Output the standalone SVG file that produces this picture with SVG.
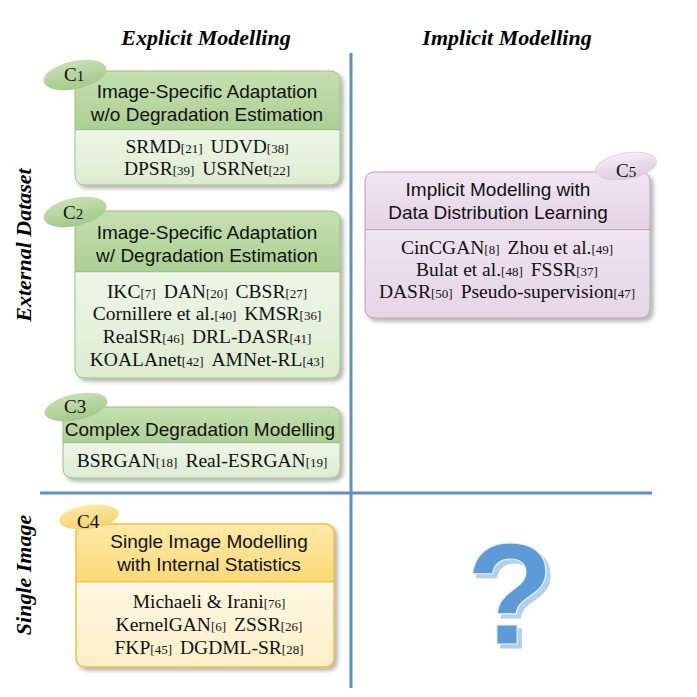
<svg xmlns="http://www.w3.org/2000/svg" width="697" height="697" viewBox="0 0 697 697">
<defs>
<linearGradient id="gH" x1="0" y1="0" x2="0" y2="1"><stop offset="0" stop-color="#c6e0b1"/><stop offset="1" stop-color="#abcf92"/></linearGradient>
<linearGradient id="gB" x1="0" y1="0" x2="0" y2="1"><stop offset="0" stop-color="#eef6e8"/><stop offset="1" stop-color="#dcecd0"/></linearGradient>
<linearGradient id="yH" x1="0" y1="0" x2="0" y2="1"><stop offset="0" stop-color="#fde9a8"/><stop offset="1" stop-color="#fbd977"/></linearGradient>
<linearGradient id="yB" x1="0" y1="0" x2="0" y2="1"><stop offset="0" stop-color="#fef7e2"/><stop offset="1" stop-color="#fdefc8"/></linearGradient>
<linearGradient id="pH" x1="0" y1="0" x2="0" y2="1"><stop offset="0" stop-color="#f1e6f1"/><stop offset="1" stop-color="#e4d2e4"/></linearGradient>
<linearGradient id="pB" x1="0" y1="0" x2="0" y2="1"><stop offset="0" stop-color="#efe3ef"/><stop offset="1" stop-color="#e6d5e6"/></linearGradient>
<linearGradient id="gT" x1="0" y1="0" x2="0" y2="1"><stop offset="0" stop-color="#c7e0b5"/><stop offset="1" stop-color="#a3c98a"/></linearGradient>
<linearGradient id="yT" x1="0" y1="0" x2="0" y2="1"><stop offset="0" stop-color="#fdeaa5"/><stop offset="1" stop-color="#f6d16a"/></linearGradient>
<linearGradient id="pT" x1="0" y1="0" x2="0" y2="1"><stop offset="0" stop-color="#f6eef6"/><stop offset="1" stop-color="#ddc9dd"/></linearGradient>
<filter id="sh" x="-10%" y="-10%" width="125%" height="130%"><feDropShadow dx="3" dy="3" stdDeviation="2" flood-color="#000" flood-opacity="0.3"/></filter>
<filter id="qs" x="-20%" y="-20%" width="150%" height="150%">
<feFlood flood-color="#b3cfee" result="f"/>
<feComposite in="f" in2="SourceAlpha" operator="in" result="s"/>
<feOffset in="s" dx="4" dy="4" result="o"/>
<feMerge><feMergeNode in="o"/><feMergeNode in="SourceGraphic"/></feMerge>
</filter>
</defs>
<style>
.ax{font-family:"Liberation Serif",serif;font-weight:bold;font-style:italic;font-size:22px;fill:#000;text-anchor:middle}
.hd{font-family:"Liberation Sans",Arial,sans-serif;font-size:19px;fill:#111;text-anchor:middle}
.bd{font-family:"Liberation Serif",serif;font-size:19.5px;fill:#111;text-anchor:middle}
.r{font-size:13px}
.cl{font-family:"Liberation Serif",serif;font-size:19px;fill:#111}
.cs{font-size:15px}
.ln{stroke:#5b8fc9;stroke-width:3;fill:none}
.gb{stroke:#9cbf85;stroke-width:1}
.yb{stroke:#f0c23c;stroke-width:1.5}
.pb{stroke:#b9a2b9;stroke-width:1}
.dv{stroke:#ffffff;stroke-width:1.2;opacity:0.8}
</style>

<g id="axes">
<line class="ln" x1="351" y1="53" x2="351" y2="688"/>
<line class="ln" x1="40" y1="493" x2="652" y2="493"/>
<text class="ax" x="206" y="45">Explicit Modelling</text>
<text class="ax" x="507" y="45">Implicit Modelling</text>
<text class="ax" transform="translate(31,245) rotate(-90)">External Dataset</text>
<text class="ax" transform="translate(31,575) rotate(-90)">Single Image</text>
</g>

<g id="c1">
<g filter="url(#sh)">
<path class="gb" d="M85,71 H330 Q340,71 340,81 V130 H75 V81 Q75,71 85,71 Z" fill="url(#gH)"/>
<path class="gb" d="M75,130 H340 V175 Q340,185 330,185 H85 Q75,185 75,175 Z" fill="url(#gB)"/>
</g>
<line class="dv" x1="76" y1="131" x2="339" y2="131"/>
<ellipse cx="75" cy="75" rx="32" ry="14" transform="rotate(-12 75 75)" fill="url(#gT)"/>
<text class="cl" x="64" y="81">C<tspan class="cs">1</tspan></text>
<text class="hd" x="207" y="98">Image-Specific Adaptation</text>
<text class="hd" x="207" y="121">w/o Degradation Estimation</text>
<text class="bd" x="207" y="153">SRMD<tspan class="r">[21]</tspan><tspan dx="8">UDVD</tspan><tspan class="r">[38]</tspan></text>
<text class="bd" x="207" y="175">DPSR<tspan class="r">[39]</tspan><tspan dx="8">USRNet</tspan><tspan class="r">[22]</tspan></text>
</g>

<g id="c2">
<g filter="url(#sh)">
<path class="gb" d="M85,211 H330 Q340,211 340,221 V272 H75 V221 Q75,211 85,211 Z" fill="url(#gH)"/>
<path class="gb" d="M75,272 H340 V368 Q340,378 330,378 H85 Q75,378 75,368 Z" fill="url(#gB)"/>
</g>
<line class="dv" x1="76" y1="273" x2="339" y2="273"/>
<ellipse cx="75" cy="212" rx="32" ry="14" transform="rotate(-12 75 212)" fill="url(#gT)"/>
<text class="cl" x="63" y="219">C<tspan class="cs">2</tspan></text>
<text class="hd" x="207" y="239">Image-Specific Adaptation</text>
<text class="hd" x="207" y="262">w/ Degradation Estimation</text>
<text class="bd" x="207" y="298">IKC<tspan class="r">[7]</tspan><tspan dx="8">DAN</tspan><tspan class="r">[20]</tspan><tspan dx="8">CBSR</tspan><tspan class="r">[27]</tspan></text>
<text class="bd" x="207" y="320">Cornillere et al.<tspan class="r">[40]</tspan><tspan dx="8">KMSR</tspan><tspan class="r">[36]</tspan></text>
<text class="bd" x="207" y="343">RealSR<tspan class="r">[46]</tspan><tspan dx="8">DRL-DASR</tspan><tspan class="r">[41]</tspan></text>
<text class="bd" x="207" y="366">KOALAnet<tspan class="r">[42]</tspan><tspan dx="8">AMNet-RL</tspan><tspan class="r">[43]</tspan></text>
</g>

<g id="c3">
<g filter="url(#sh)">
<path class="gb" d="M73,407 H330 Q340,407 340,417 V443 H63 V417 Q63,407 73,407 Z" fill="url(#gH)"/>
<path class="gb" d="M63,443 H340 V468 Q340,478 330,478 H73 Q63,478 63,468 Z" fill="url(#gB)"/>
</g>
<line class="dv" x1="64" y1="444" x2="339" y2="444"/>
<ellipse cx="76" cy="407" rx="32" ry="13" transform="rotate(-12 76 407)" fill="url(#gT)"/>
<text class="cl" x="64" y="413">C3</text>
<text class="hd" x="200" y="436">Complex Degradation Modelling</text>
<text class="bd" x="202" y="467">BSRGAN<tspan class="r">[18]</tspan><tspan dx="8">Real-ESRGAN</tspan><tspan class="r">[19]</tspan></text>
</g>

<g id="c4">
<g filter="url(#sh)">
<path class="yb" d="M86,524 H324 Q334,524 334,534 V582 H76 V534 Q76,524 86,524 Z" fill="url(#yH)"/>
<path class="yb" d="M76,582 H334 V657 Q334,667 324,667 H86 Q76,667 76,657 Z" fill="url(#yB)"/>
</g>
<line class="dv" x1="77" y1="583" x2="333" y2="583"/>
<ellipse cx="89" cy="517" rx="30" ry="12" transform="rotate(-8 89 517)" fill="url(#yT)"/>
<text class="cl" x="77" y="528">C4</text>
<text class="hd" x="209" y="548">Single Image Modelling</text>
<text class="hd" x="209" y="571">with Internal Statistics</text>
<text class="bd" x="209" y="608">Michaeli &amp; Irani<tspan class="r">[76]</tspan></text>
<text class="bd" x="209" y="631">KernelGAN<tspan class="r">[6]</tspan><tspan dx="8">ZSSR</tspan><tspan class="r">[26]</tspan></text>
<text class="bd" x="209" y="654">FKP<tspan class="r">[45]</tspan><tspan dx="8">DGDML-SR</tspan><tspan class="r">[28]</tspan></text>
</g>

<g id="c5">
<g filter="url(#sh)">
<path class="pb" d="M375,172 H640 Q650,172 650,182 V230 H365 V182 Q365,172 375,172 Z" fill="url(#pH)"/>
<path class="pb" d="M365,230 H650 V308 Q650,318 640,318 H375 Q365,318 365,308 Z" fill="url(#pB)"/>
</g>
<line class="dv" x1="366" y1="231" x2="649" y2="231"/>
<ellipse cx="626" cy="166" rx="31" ry="13" transform="rotate(-10 626 166)" fill="url(#pT)" stroke="#d9c8d9" stroke-width="0.8"/>
<text class="cl" x="616" y="177">C<tspan class="cs">5</tspan></text>
<text class="hd" x="498" y="196">Implicit Modelling with</text>
<text class="hd" x="498" y="219">Data Distribution Learning</text>
<text class="bd" x="507" y="254">CinCGAN<tspan class="r">[8]</tspan><tspan dx="8">Zhou et al.</tspan><tspan class="r">[49]</tspan></text>
<text class="bd" x="507" y="276">Bulat et al.<tspan class="r">[48]</tspan><tspan dx="8">FSSR</tspan><tspan class="r">[37]</tspan></text>
<text class="bd" x="507" y="298">DASR<tspan class="r">[50]</tspan><tspan dx="8">Pseudo-supervision</tspan><tspan class="r">[47]</tspan></text>
</g>

<g id="question">
<text x="510" y="644" filter="url(#qs)" font-family="Liberation Sans,Arial,sans-serif" font-weight="bold" font-size="145" text-anchor="middle" fill="#5b9bd5" stroke="#e8f1fb" stroke-width="1.2">?</text>
</g>
</svg>
